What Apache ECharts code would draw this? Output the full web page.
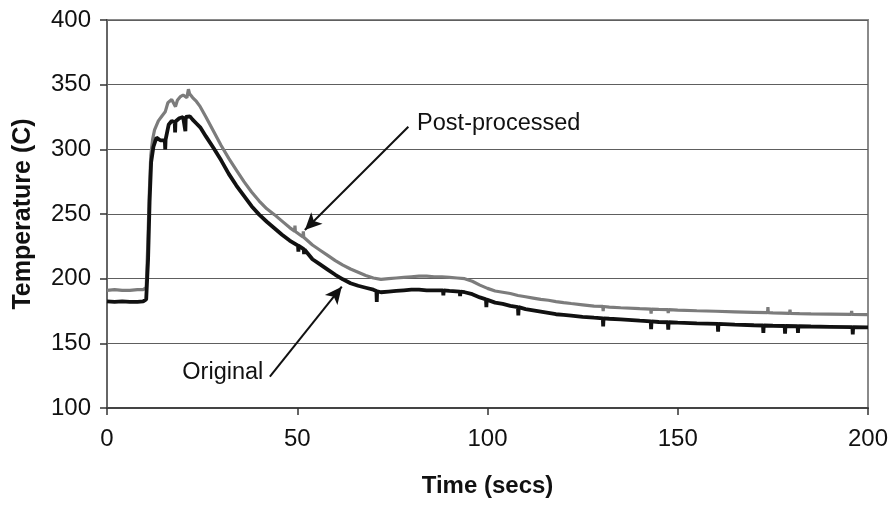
<!DOCTYPE html>
<html><head><meta charset="utf-8">
<script src="https://cdn.jsdelivr.net/npm/echarts@6/dist/echarts.min.js"></script>
<style>html,body{margin:0;padding:0;background:#fff}#c{width:891px;height:506px}</style>
</head><body><div id="c"></div>
<script>
// Axis ticks
const xTicks = [0, 50, 100, 150, 200];
const yTicks = [100, 150, 200, 250, 300, 350, 400];

// Original thermocouple trace [time (s), temperature (C)]
const originalSeries = [
  [0,182.5],[2,182],[4,182.5],[6,182],[8,182],[9.5,182.5],[10.3,184],[10.8,215],[11.2,260],[11.6,290],
  [12.2,302],[13,309],[14,307],[15.2,307],[15.3,300],[15.4,307.5],[16.2,319],[17,322],[17.8,321],[17.9,313],[18,321.5],
  [19,324],[20,325],[20.5,325],[20.6,314],[20.7,325],[21.8,325.5],[22.5,323],[23.5,320],[24.5,317],[26,310],
  [28,301],[30,291.5],[32,281],[34,272],[36,264],[38,256],[40,249.5],[42,244],[44,239],[46,234],[48,229.5],
  [50.2,225.5],[50.3,221],[50.4,225.3],[51.7,222.8],[51.8,219],[51.9,222.6],[54,215],[56,211],[58,207],[60,203],
  [62,199.5],[64,196.5],[66,194.5],[68,193],[70,191.5],[70.8,190.5],[70.9,182],[71,190.3],[72,189.5],[74,190],
  [76,190.5],[78,191],[80,191.5],[82,191.5],[84,191],[86,191],[88.3,191],[88.4,187],[88.5,191],[90,190.5],
  [92.7,190],[92.8,186.5],[92.9,190],[94,189.5],[96,188],[98,185.5],[99.6,184],[99.7,178],[99.8,183.8],[102,181.5],
  [104,180.5],[106,179],[108,178],[108.1,171.5],[108.2,178],[110,176.5],[112,175.5],[114,174.5],[116,173.5],
  [118,172.5],[120,172],[122,171.5],[125,170.5],[128,169.8],[130.3,169.3],[130.4,163],[130.5,169.3],[132,169],
  [135,168.5],[138,168],[140,167.5],[142.9,167],[143,161],[143.1,167],[145,166.5],[147.4,166.3],[147.5,160.5],
  [147.6,166.3],[150,166],[155,165.5],[160.5,165],[160.6,159],[160.7,165],[165,164.5],[170,164],[172.4,163.8],
  [172.5,158],[172.6,163.8],[175,163.6],[178.1,163.4],[178.2,157.5],[178.3,163.4],[181.5,163.2],[181.6,158],
  [181.7,163.2],[185,163],[190,162.8],[195.9,162.5],[196,157],[196.1,162.5],[200,162.3]
];

// Post-processed trace [time (s), temperature (C)]
const postProcessedSeries = [
  [0,191],[2,191.5],[4,191],[6,191],[8,191.5],[9.5,191.5],[10.3,193],[10.7,225],[11.1,265],[11.5,295],
  [12,308],[12.5,315],[13.5,322],[14.5,326],[15.3,329],[16,336],[17,338.5],[17.5,337],[18,333],[18.5,338],
  [19.2,340.5],[20,342],[20.5,343],[21,340],[21.4,346.5],[21.7,343],[22.5,340],[23.5,337],[24.5,333],[26,325],
  [28,314],[30,303],[32,293],[34,284],[36,275],[38,267],[40,260],[42,254],[44,249.5],[46,244.5],[48,239.5],
  [49.3,236.8],[49.4,241],[49.5,236.5],[51.5,232.2],[51.6,236.5],[51.7,232],[54,226],[56,222],[58,218],[60,214],
  [62,210.5],[64,207.5],[66,205],[68,202.5],[70,200.5],[72,199.5],[74,200],[76,200.5],[78,201],[80,201.5],
  [82,202],[84,202],[86,201.5],[88,201.5],[90,201],[92,200.5],[94,200],[96,198],[98,195],[100,192.5],
  [102,190.5],[104,189.5],[106,188.5],[108,187],[110,186],[112,185],[114,184],[116,183.3],[118,182.3],
  [120,181.5],[122,180.8],[125,179.8],[128,178.8],[130.3,178.5],[130.4,175],[130.5,178.5],[132,178],
  [135,177.5],[140,176.8],[142.9,176.5],[143,173],[143.1,176.5],[145,176.2],[147.4,176],[147.5,173.5],
  [147.6,176],[150,175.7],[155,175.2],[160,174.8],[165,174.4],[170,174],[173.6,173.7],[173.7,178],[173.8,173.7],
  [175,173.5],[179.4,173.2],[179.5,176],[179.6,173.2],[182,173],[185,172.8],[190,172.6],[195.6,172.4],
  [195.7,175],[195.8,172.4],[200,172.2]
];

// Annotations (data coordinates)
const postLabelText = 'Post-processed';
const postLabelAt = [81.5, 319.6];
const postArrow = [[79.2, 317.5], [52.0, 237.6]];
const origLabelText = 'Original';
const origLabelAt = [19.8, 127.8];
const origArrow = [[42.8, 124.2], [61.7, 193.8]];

const FONT = '"Liberation Sans", Arial, Helvetica, sans-serif';
const chart = echarts.init(document.getElementById('c'), null, {renderer: 'canvas'});

function textPoint(text, at) {
  return {
    coord: at, symbol: 'circle', symbolSize: 0.01,
    itemStyle: {color: 'rgba(0,0,0,0)'},
    label: {show: true, formatter: text, position: 'right', distance: 0,
            color: '#111', fontSize: 23.5, fontFamily: FONT}
  };
}

chart.setOption({
  animation: false,
  backgroundColor: '#fff',
  grid: {left: 107, right: 23, top: 20, bottom: 98, show: true,
         borderColor: '#8a8a8a', borderWidth: 2, outerBoundsMode: 'none', containLabel: false},
  xAxis: {
    type: 'value', min: xTicks[0], max: xTicks[xTicks.length - 1], interval: xTicks[1] - xTicks[0],
    name: 'Time (secs)', nameLocation: 'middle', nameGap: 66,
    nameTextStyle: {fontSize: 24, fontWeight: 'bold', color: '#111', fontFamily: FONT},
    axisLine: {show: true, onZero: false, lineStyle: {color: '#444', width: 2}},
    axisTick: {show: true, length: 7, lineStyle: {color: '#333', width: 1.5}},
    axisLabel: {fontSize: 24, color: '#111', margin: 19, fontFamily: FONT, showMinLabel: true, showMaxLabel: true},
    splitLine: {show: false}
  },
  yAxis: {
    type: 'value', min: yTicks[0], max: yTicks[yTicks.length - 1], interval: yTicks[1] - yTicks[0],
    name: 'Temperature (C)', nameLocation: 'middle', nameGap: 71,
    nameTextStyle: {fontSize: 25, fontWeight: 'bold', color: '#111', fontFamily: FONT},
    axisLine: {show: true, onZero: false, lineStyle: {color: '#666', width: 2}},
    axisTick: {show: true, length: 7, lineStyle: {color: '#333', width: 1.5}},
    axisLabel: {fontSize: 24, color: '#111', margin: 16, fontFamily: FONT},
    splitLine: {show: true, lineStyle: {color: '#5e5e5e', width: 1.2}}
  },
  series: [
    {
      name: 'Post-processed', type: 'line', data: postProcessedSeries, showSymbol: false,
      lineStyle: {color: '#7c7c7c', width: 3.2}, z: 2, silent: true,
      markLine: {
        silent: true, symbol: ['none', 'arrow'], symbolSize: [12, 17], precision: 4,
        lineStyle: {color: '#111', width: 2, type: 'solid'}, label: {show: false},
        data: [[{coord: postArrow[0]}, {coord: postArrow[1]}]]
      },
      markPoint: {silent: true, data: [textPoint(postLabelText, postLabelAt)]}
    },
    {
      name: 'Original', type: 'line', data: originalSeries, showSymbol: false,
      lineStyle: {color: '#111', width: 3.8}, z: 3, silent: true,
      markLine: {
        silent: true, symbol: ['none', 'arrow'], symbolSize: [12, 17], precision: 4,
        lineStyle: {color: '#111', width: 2, type: 'solid'}, label: {show: false},
        data: [[{coord: origArrow[0]}, {coord: origArrow[1]}]]
      },
      markPoint: {silent: true, data: [textPoint(origLabelText, origLabelAt)]}
    }
  ]
});
</script></body></html>
